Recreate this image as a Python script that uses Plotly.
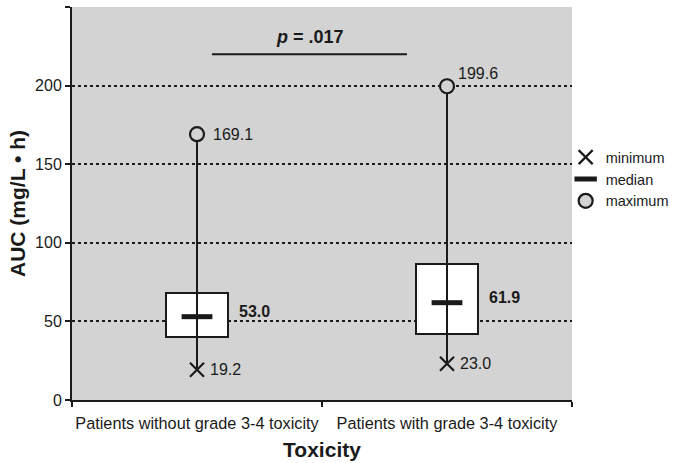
import plotly.graph_objects as go

# Datos del gráfico
grupos = ['Patients without grade 3-4 toxicity', 'Patients with grade 3-4 toxicity']
minimo = [19.2, 23.0]
q1 = [40.0, 42.0]
mediana = [53.0, 61.9]
q3 = [68.0, 86.5]
maximo = [169.1, 199.6]

# Línea de comparación (p-valor)
p_texto = '<i>p</i> = .017'
p_linea_x = [0.06, 0.84]
p_linea_y = [220, 220]
p_texto_y = 231

FUENTE = 'Liberation Sans, Arial, sans-serif'
NEGRO = '#1a1a1a'
FONDO = '#d3d3d3'

fig = go.Figure()

# bigotes (min a max)
bx, by = [], []
for g, lo, hi in zip(grupos, minimo, maximo):
    bx += [g, g, None]
    by += [lo, hi, None]
fig.add_trace(go.Scatter(x=bx, y=by, mode='lines', line=dict(color=NEGRO, width=2),
                         showlegend=False, hoverinfo='skip'))

# cajas q1-q3
fig.add_trace(go.Bar(x=grupos, y=[b - a for a, b in zip(q1, q3)], base=q1, width=0.25,
                     marker=dict(color='white', line=dict(color=NEGRO, width=2)),
                     showlegend=False, hoverinfo='skip'))

fig.add_trace(go.Scatter(x=grupos, y=minimo, mode='markers', name='minimum',
                         marker=dict(symbol='x-thin-open', size=14, color=NEGRO,
                                     line=dict(color=NEGRO, width=2.2))))
fig.add_trace(go.Scatter(x=grupos, y=mediana, mode='markers', name='median',
                         marker=dict(symbol='line-ew-open', size=22, color=NEGRO,
                                     line=dict(color=NEGRO, width=5))))
fig.add_trace(go.Scatter(x=grupos, y=maximo, mode='markers', name='maximum',
                         marker=dict(symbol='circle', size=14, color=FONDO,
                                     line=dict(color=NEGRO, width=2.2))))

# línea del p-valor
fig.add_trace(go.Scatter(x=p_linea_x, y=p_linea_y, mode='lines', line=dict(color=NEGRO, width=2),
                         showlegend=False, hoverinfo='skip', xaxis='x2'))
fig.add_annotation(x=sum(p_linea_x) / 2, y=p_texto_y, xref='x2', yref='y',
                   text='<b>' + p_texto + '</b>', showarrow=False,
                   font=dict(size=18, color=NEGRO, family=FUENTE))

# etiquetas de valores
for i, g in enumerate(grupos):
    fig.add_annotation(x=g, y=minimo[i], text=f'{minimo[i]:.1f}', showarrow=False,
                       xanchor='left', xshift=11, font=dict(size=16, color=NEGRO, family=FUENTE))
    fig.add_annotation(x=g, y=mediana[i], text=f'<b>{mediana[i]:.1f}</b>', showarrow=False,
                       xanchor='left', xshift=40, yshift=5, font=dict(size=16, color=NEGRO, family=FUENTE))
fig.add_annotation(x=grupos[0], y=maximo[0], text=f'{maximo[0]:.1f}', showarrow=False,
                   xanchor='left', xshift=14, font=dict(size=16, color=NEGRO, family=FUENTE))
fig.add_annotation(x=grupos[1], y=maximo[1], text=f'{maximo[1]:.1f}', showarrow=False,
                   xanchor='left', xshift=9, yshift=13, font=dict(size=16, color=NEGRO, family=FUENTE))

fig.update_layout(
    width=675, height=463,
    margin=dict(l=72, r=103, t=7, b=63, autoexpand=False),
    plot_bgcolor=FONDO, paper_bgcolor='white',
    font=dict(family=FUENTE, size=16, color=NEGRO),
    bargap=0,
    legend=dict(xref='container', yref='container', x=0.838, y=0.695,
                xanchor='left', yanchor='top', bgcolor='rgba(0,0,0,0)',
                font=dict(size=14.5), itemsizing='trace', tracegroupgap=0),
    xaxis=dict(
        title=dict(text='<b>Toxicity</b>', font=dict(size=21), standoff=12),
        range=[-0.5, 1.5], showline=True, linecolor=NEGRO, linewidth=2, automargin=False,
        ticks='outside', tickson='boundaries', ticklen=5, tickcolor=NEGRO, tickwidth=1.5,
        tickfont=dict(size=16.3), tickangle=0, ticklabelstandoff=7, showgrid=False,
    ),
    xaxis2=dict(overlaying='x', range=[-0.5, 1.5], visible=False),
    yaxis=dict(
        title=dict(text='<b>AUC (mg/L • h)</b>', font=dict(size=21), standoff=4),
        range=[0, 250], dtick=50, showline=True, linecolor=NEGRO, linewidth=2, automargin=False,
        ticks='outside', ticklen=5, tickcolor=NEGRO, tickwidth=1.5, tickfont=dict(size=16),
        showgrid=True, gridcolor=NEGRO, gridwidth=1.5, griddash='dot', zeroline=False,
    ),
)

# quitar el margen del body para que la figura quede en (0,0)
fig.write_html('out.html', config={'displayModeBar': False},
               post_script="document.body.style.margin='0';")
